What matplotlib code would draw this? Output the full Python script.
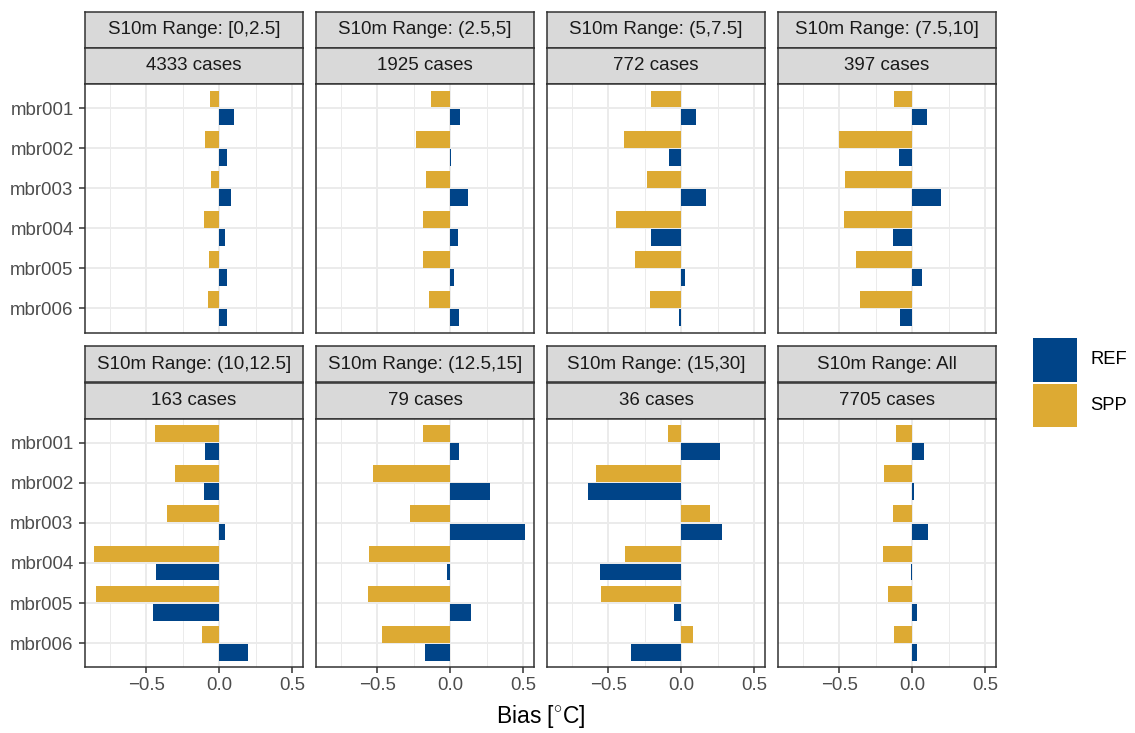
import matplotlib
matplotlib.use("Agg")
import matplotlib.pyplot as plt
import numpy as np

plt.rcParams['font.family'] = ['Liberation Sans', 'DejaVu Sans']
plt.rcParams['mathtext.fontset'] = 'custom'
plt.rcParams['mathtext.rm'] = 'Liberation Sans'
plt.rcParams['mathtext.it'] = 'Liberation Sans:italic'

# ---- data -------------------------------------------------------------
members = ["mbr001", "mbr002", "mbr003", "mbr004", "mbr005", "mbr006"]
ranges = ["[0,2.5]", "(2.5,5]", "(5,7.5]", "(7.5,10]",
          "(10,12.5]", "(12.5,15]", "(15,30]", "All"]
cases = [4333, 1925, 772, 397, 163, 79, 36, 7705]

# bias per wind-speed range (rows) and ensemble member (columns)
ref_bias = [
    [0.103, 0.055, 0.082, 0.041, 0.055, 0.055],
    [0.068, 0.007, 0.123, 0.055, 0.027, 0.062],
    [0.102, -0.082, 0.170, -0.205, 0.027, -0.014],
    [0.102, -0.089, 0.198, -0.130, 0.068, -0.082],
    [-0.096, -0.103, 0.041, -0.432, -0.452, 0.199],
    [0.062, 0.274, 0.514, -0.021, 0.144, -0.171],
    [0.267, -0.637, 0.281, -0.555, -0.048, -0.342],
    [0.082, 0.014, 0.110, -0.005, 0.034, 0.034],
]
spp_bias = [
    [-0.062, -0.096, -0.055, -0.103, -0.068, -0.075],
    [-0.130, -0.233, -0.164, -0.185, -0.185, -0.144],
    [-0.205, -0.389, -0.232, -0.443, -0.314, -0.211],
    [-0.123, -0.498, -0.457, -0.464, -0.382, -0.355],
    [-0.438, -0.301, -0.358, -0.856, -0.842, -0.119],
    [-0.185, -0.527, -0.274, -0.555, -0.562, -0.466],
    [-0.089, -0.582, 0.199, -0.384, -0.548, 0.082],
    [-0.110, -0.192, -0.130, -0.199, -0.164, -0.123],
]
schemes = ["REF", "SPP"]
colors = {"REF": "#004488", "SPP": "#DDAA33"}

# ---- layout (pixels) --------------------------------------------------
W, H = 1135, 733
fig = plt.figure(figsize=(W / 100, H / 100), dpi=100)

col_left = [85, 316, 547, 778]
panel_w = 218
row_panel_top = [84, 418.7]
panel_h = 248.5
strip_h = 36.2

border = "#333333"
grid_major = "#EBEBEB"
xlim = (-0.918, 0.575)


def px_rect(x0, y_top, w, h):
    return [x0 / W, 1 - (y_top + h) / H, w / W, h / H]


ypos = np.arange(len(members))
bar_h = 0.42
offset = 0.225

for k, rng in enumerate(ranges):
    r, c = divmod(k, 4)
    x0 = col_left[c]
    ptop = row_panel_top[r]

    # two stacked strip labels
    for s, label in enumerate([f"S10m Range: {rng}", f"{cases[k]} cases"]):
        sy = ptop - strip_h * (2 - s)
        sax = fig.add_axes(px_rect(x0, sy, panel_w, strip_h))
        sax.set_facecolor("#D9D9D9")
        sax.set_xticks([])
        sax.set_yticks([])
        for sp in sax.spines.values():
            sp.set_color(border)
            sp.set_linewidth(1.1)
        sax.text(0.5, 0.5, label, ha="center", va="center",
                 fontsize=13.5, color="#1A1A1A", transform=sax.transAxes)

    ax = fig.add_axes(px_rect(x0, ptop, panel_w, panel_h))
    ax.set_xlim(*xlim)
    ax.set_ylim(len(members) - 0.4, -0.6)
    ax.set_axisbelow(True)

    ax.barh(ypos - offset, spp_bias[k], height=bar_h,
            color=colors["SPP"], linewidth=0)
    ax.barh(ypos + offset, ref_bias[k], height=bar_h,
            color=colors["REF"], linewidth=0)

    ax.set_xticks([-0.5, 0.0, 0.5])
    ax.set_xticks([-0.75, -0.25, 0.25], minor=True)
    ax.set_xticklabels(["\u22120.5", "0.0", "0.5"])
    ax.set_yticks(ypos)
    ax.set_yticklabels(members)
    ax.grid(True, which="major", color=grid_major, linewidth=1.4)
    ax.grid(True, which="minor", axis="x", color=grid_major, linewidth=0.7)

    for sp in ax.spines.values():
        sp.set_color(border)
        sp.set_linewidth(1.1)

    ax.tick_params(axis="both", which="major", length=4.2, width=1.1,
                   color=border, labelcolor="#4D4D4D", labelsize=13.4)
    ax.tick_params(axis="x", which="minor", length=0)
    ax.tick_params(axis="x", pad=3)
    ax.tick_params(axis="y", pad=4)
    if r == 0:
        ax.tick_params(axis="x", which="major", length=0, labelbottom=False)
    if c != 0:
        ax.tick_params(axis="y", length=0, labelleft=False)

# axis title
fig.text(540.5 / W, 1 - 717 / H, r"Bias [$^{\circ}$C]", ha="center",
         va="center", fontsize=16.5, color="black")

# legend
key = 43.5
key_x = 1033
key_tops = [338, 383.5]
for name, kt in zip(schemes, key_tops):
    kax = fig.add_axes(px_rect(key_x, kt, key, key))
    kax.set_facecolor(colors[name])
    kax.set_xticks([])
    kax.set_yticks([])
    for sp in kax.spines.values():
        sp.set_visible(False)
    fig.text(1090 / W, 1 - (kt + key / 2) / H, name, ha="left",
             va="center", fontsize=13.2, color="black")

fig.savefig("out.png", dpi=100)
